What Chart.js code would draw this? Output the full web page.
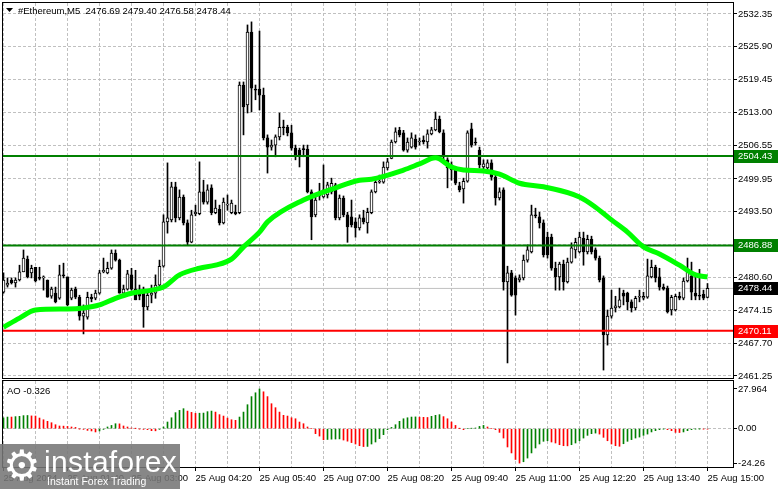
<!DOCTYPE html>
<html>
<head>
<meta charset="utf-8">
<script src="https://cdn.jsdelivr.net/npm/chart.js@4.4.1/dist/chart.umd.min.js"></script>
<style>
  html, body { margin: 0; padding: 0; background: #fff; }
  #wrap { position: relative; width: 781px; height: 489px; overflow: hidden; }
  #main { position: absolute; left: 0; top: 0; }
  #ao { position: absolute; left: 0; top: 380px; }
  #logo { position: absolute; left: 0; top: 444px; width: 180px; height: 45px;
          background: rgba(118,118,118,0.88); color: #fff; font-family: 'Liberation Sans', sans-serif; }
  #logo .gear { position: absolute; left: 3px; top: -1px; font-size: 42px; line-height: 46px; font-family: 'DejaVu Sans', sans-serif; }
  #logo .name { position: absolute; left: 44px; top: 3px; font-size: 30px; line-height: 30px; letter-spacing: 0.3px; }
  #logo .tag { position: absolute; left: 47px; top: 31px; font-size: 10.5px; line-height: 12px; }
</style>
</head>
<body>
<div id="wrap">
  <canvas id="main" width="781" height="380"></canvas>
  <canvas id="ao" width="781" height="109"></canvas>
  <div id="logo"><span class="gear">⚙</span><span class="name">instaforex</span><span class="tag">Instant Forex Trading</span></div>
</div>
<script>
// ETH M5 candles, one per 5 minutes starting 25 Aug 00:20
const opens = [
  2477.7, 2479.1, 2480.1, 2479.5, 2480.1, 2481.7, 2484.2, 2481.5, 2482.6, 2480.5,
  2480.5, 2480.1, 2476.9, 2477.5, 2476.5, 2481.1, 2480.7, 2476.5, 2478.3, 2476.7,
  2473.0, 2472.8, 2476.7, 2476.5, 2477.5, 2481.7, 2481.5, 2482.4, 2485.4, 2484.0,
  2477.5, 2478.3, 2481.1, 2478.3, 2477.3, 2477.5, 2474.8, 2477.1, 2477.5, 2479.1,
  2482.8, 2491.5, 2491.9, 2498.4, 2492.3, 2496.4, 2491.3, 2487.5, 2493.1, 2493.1,
  2497.4, 2495.4, 2498.2, 2493.3, 2494.0, 2491.3, 2494.8, 2493.3, 2493.4, 2493.3,
  2518.4, 2514.5, 2528.8, 2517.6, 2517.6, 2516.4, 2508.0, 2506.2, 2506.6, 2508.2,
  2510.1, 2510.1, 2509.0, 2506.0, 2505.6, 2505.8, 2505.8, 2497.4, 2492.9, 2496.8,
  2496.4, 2496.8, 2497.4, 2498.8, 2492.3, 2496.2, 2492.9, 2492.5, 2491.5, 2490.3,
  2492.3, 2491.3, 2493.3, 2497.4, 2499.3, 2499.3, 2502.1, 2504.0, 2507.2, 2509.5,
  2509.0, 2505.6, 2506.2, 2507.8, 2507.2, 2507.6, 2507.2, 2508.8, 2509.6, 2511.7,
  2509.0, 2503.7, 2502.7, 2501.7, 2498.6, 2498.0, 2499.5, 2509.8, 2507.2, 2505.6,
  2502.3, 2502.1, 2503.1, 2500.3, 2496.2, 2497.8, 2479.7, 2481.5, 2480.5, 2480.1,
  2480.5, 2484.0, 2485.6, 2492.9, 2492.5, 2491.3, 2488.5, 2488.5, 2482.4, 2480.7,
  2483.2, 2479.7, 2483.6, 2486.0, 2485.6, 2488.3, 2485.6, 2488.1, 2486.0, 2484.4,
  2480.5, 2469.3, 2473.0, 2474.6, 2474.8, 2477.5, 2477.5, 2475.8, 2474.6, 2476.7,
  2476.5, 2476.7, 2480.7, 2482.6, 2480.7, 2478.7, 2478.5, 2474.2, 2474.2, 2476.9,
  2476.5, 2479.9, 2480.9, 2477.5, 2477.1, 2477.3, 2476.69
];
const highs = [
  2481.5, 2480.5, 2480.5, 2480.5, 2483.0, 2486.0, 2484.8, 2483.0, 2482.6, 2482.6,
  2480.9, 2480.1, 2478.7, 2478.7, 2483.0, 2483.4, 2480.7, 2478.5, 2478.7, 2477.1,
  2475.2, 2477.7, 2477.3, 2478.1, 2482.0, 2484.4, 2483.6, 2486.0, 2486.0, 2484.2,
  2479.1, 2482.0, 2482.4, 2482.0, 2479.1, 2478.7, 2478.1, 2479.1, 2481.1, 2484.0,
  2492.9, 2503.1, 2499.3, 2499.3, 2497.8, 2496.8, 2491.9, 2493.8, 2494.8, 2503.3,
  2499.7, 2498.8, 2498.8, 2495.8, 2494.8, 2496.2, 2496.8, 2495.8, 2494.8, 2519.0,
  2519.0, 2530.2, 2530.8, 2518.4, 2529.0, 2517.8, 2508.6, 2507.6, 2508.6, 2512.9,
  2511.5, 2510.5, 2510.5, 2506.6, 2506.0, 2506.6, 2506.6, 2497.8, 2496.8, 2499.1,
  2502.7, 2499.3, 2500.1, 2499.1, 2496.8, 2496.6, 2493.4, 2495.8, 2492.3, 2492.9,
  2493.8, 2494.2, 2497.8, 2500.1, 2500.7, 2503.3, 2504.0, 2507.6, 2510.0, 2510.1,
  2509.5, 2508.0, 2509.0, 2508.6, 2508.0, 2508.4, 2509.6, 2510.1, 2513.1, 2512.3,
  2509.6, 2504.1, 2503.3, 2502.1, 2499.3, 2500.1, 2509.4, 2510.9, 2508.0, 2506.2,
  2503.7, 2503.7, 2503.7, 2500.7, 2498.2, 2498.2, 2482.8, 2482.0, 2480.9, 2481.1,
  2485.0, 2487.0, 2494.8, 2494.2, 2493.4, 2491.9, 2489.5, 2489.1, 2483.6, 2483.6,
  2484.0, 2484.4, 2487.4, 2488.3, 2489.5, 2489.5, 2488.9, 2488.7, 2486.4, 2484.8,
  2480.9, 2474.2, 2478.1, 2476.9, 2478.5, 2478.1, 2477.7, 2476.2, 2476.9, 2478.1,
  2477.7, 2484.2, 2484.0, 2483.0, 2482.4, 2479.3, 2478.9, 2477.1, 2477.3, 2477.7,
  2480.5, 2484.4, 2483.6, 2481.1, 2482.2, 2478.1, 2479.40
];
const lows = [
  2477.5, 2478.7, 2479.3, 2478.7, 2479.9, 2481.7, 2480.5, 2480.5, 2479.7, 2480.1,
  2478.1, 2476.7, 2476.5, 2475.6, 2476.3, 2480.5, 2475.0, 2476.2, 2476.4, 2472.2,
  2469.5, 2472.4, 2475.8, 2476.2, 2477.3, 2481.5, 2481.3, 2482.2, 2483.8, 2477.5,
  2477.1, 2478.1, 2478.1, 2476.2, 2476.2, 2470.8, 2474.2, 2475.6, 2476.5, 2478.9,
  2482.6, 2489.3, 2491.5, 2491.5, 2491.9, 2490.9, 2487.0, 2487.4, 2492.7, 2492.9,
  2495.0, 2495.0, 2492.9, 2493.1, 2490.9, 2491.1, 2493.8, 2493.1, 2492.9, 2493.1,
  2508.6, 2512.9, 2513.1, 2515.5, 2513.5, 2507.6, 2501.1, 2505.6, 2504.3, 2507.6,
  2508.6, 2508.4, 2505.6, 2503.7, 2502.3, 2504.3, 2497.2, 2488.0, 2492.5, 2495.8,
  2496.2, 2496.2, 2497.0, 2491.9, 2491.9, 2492.5, 2487.5, 2490.5, 2488.5, 2489.9,
  2491.1, 2489.3, 2493.1, 2497.2, 2499.1, 2499.1, 2501.7, 2503.9, 2507.0, 2508.2,
  2505.4, 2505.2, 2506.0, 2505.8, 2506.6, 2506.8, 2506.0, 2508.6, 2509.4, 2509.0,
  2503.7, 2498.2, 2499.7, 2498.8, 2497.4, 2495.2, 2499.3, 2506.2, 2506.6, 2502.1,
  2501.7, 2501.7, 2499.7, 2494.8, 2495.8, 2478.1, 2463.8, 2476.9, 2473.2, 2479.7,
  2480.1, 2483.6, 2485.4, 2492.3, 2490.3, 2484.6, 2484.4, 2482.0, 2478.1, 2478.1,
  2478.1, 2479.5, 2483.4, 2484.4, 2485.4, 2483.0, 2485.2, 2485.2, 2484.0, 2479.7,
  2462.4, 2467.3, 2472.6, 2473.8, 2474.6, 2475.2, 2474.2, 2473.8, 2474.2, 2475.8,
  2476.2, 2476.5, 2480.5, 2479.7, 2478.1, 2478.1, 2473.6, 2473.2, 2474.0, 2476.2,
  2476.2, 2479.7, 2476.2, 2476.2, 2476.2, 2476.2, 2476.58
];
const closes = [
  2480.1, 2479.5, 2479.5, 2480.1, 2481.7, 2484.4, 2480.7, 2482.4, 2479.9, 2480.4,
  2480.7, 2476.7, 2478.3, 2475.8, 2481.1, 2480.9, 2475.2, 2478.1, 2476.7, 2473.0,
  2473.6, 2476.7, 2476.4, 2477.5, 2481.5, 2482.0, 2482.4, 2485.4, 2484.0, 2477.5,
  2478.3, 2481.3, 2478.3, 2476.2, 2476.9, 2474.8, 2477.1, 2477.5, 2479.1, 2482.8,
  2491.5, 2492.3, 2498.4, 2492.3, 2496.4, 2491.3, 2487.5, 2492.9, 2493.4, 2497.4,
  2495.4, 2497.8, 2493.3, 2494.2, 2491.3, 2495.4, 2495.0, 2495.2, 2493.1, 2518.4,
  2514.1, 2528.8, 2517.8, 2517.4, 2516.4, 2508.0, 2506.2, 2506.6, 2508.2, 2510.1,
  2510.0, 2509.0, 2506.0, 2504.6, 2504.3, 2505.7, 2497.4, 2492.5, 2495.8, 2496.6,
  2497.8, 2498.8, 2499.1, 2492.3, 2496.2, 2492.9, 2490.5, 2490.9, 2490.3, 2492.3,
  2491.5, 2493.4, 2497.4, 2499.3, 2499.5, 2502.3, 2503.3, 2507.2, 2509.2, 2508.6,
  2505.6, 2507.2, 2508.0, 2506.2, 2507.4, 2507.2, 2508.8, 2509.6, 2511.7, 2509.2,
  2504.6, 2502.1, 2501.7, 2499.1, 2497.8, 2499.5, 2509.0, 2506.6, 2507.0, 2502.7,
  2502.9, 2503.1, 2500.3, 2496.2, 2497.4, 2479.7, 2481.5, 2477.1, 2477.1, 2480.5,
  2484.0, 2486.0, 2492.9, 2492.7, 2491.3, 2485.0, 2485.0, 2482.4, 2480.7, 2483.2,
  2479.7, 2483.6, 2486.4, 2487.5, 2488.5, 2485.6, 2488.1, 2485.6, 2484.4, 2480.1,
  2469.3, 2473.0, 2474.6, 2475.0, 2476.2, 2476.9, 2475.8, 2474.6, 2476.5, 2476.8,
  2476.9, 2480.9, 2482.6, 2480.5, 2478.7, 2478.3, 2473.8, 2476.7, 2476.9, 2476.5,
  2479.9, 2482.0, 2477.7, 2476.9, 2476.9, 2476.5, 2478.44
];

// moving average, read at a set of bars
const maBars = [0, 4, 8, 16, 20, 24, 28, 32, 37, 40, 44, 49, 53, 57, 60, 64, 66, 75, 83, 89,
  92, 100, 104, 108, 112, 115, 120, 124, 129, 135, 144, 148, 152, 156, 160, 164, 169, 173, 176];
const maValues = [2470.8, 2472.6, 2474.2, 2474.4, 2474.6, 2475.2, 2476.5, 2477.5, 2478.1, 2478.7,
  2481.1, 2482.4, 2483.0, 2484.2, 2486.6, 2489.5, 2491.5, 2495.8, 2498.2, 2499.7,
  2499.9, 2501.7, 2502.9, 2504.1, 2502.3, 2501.7, 2501.5, 2500.9, 2499.1, 2498.4,
  2496.4, 2494.4, 2491.9, 2489.5, 2486.6, 2485.2, 2483.0, 2481.1, 2480.7];

// Awesome Oscillator, one value per bar
const aoValues = [
  7.7, 8.2, 8.2, 8.5, 8.7, 9.2, 9.3, 9.0, 8.9, 7.5,
  6.3, 5.2, 4.2, 2.8, 1.9, 1.8, 1.6, 1.2, 0.9, -0.1,
  -0.5, -1.2, -1.6, -2.3, -1.6, -0.5, 1.2, 2.3, 3.5, 3.4,
  1.9, 1.2, 0.5, 0.1, -0.2, -0.5, -0.7, -1.4, -1.5, -0.5,
  1.2, 4.7, 7.7, 11.3, 12.9, 14.1, 12.4, 11.5, 10.8, 10.9,
  11.0, 12.0, 12.4, 11.7, 9.9, 8.9, 7.5, 6.3, 5.9, 8.2,
  11.7, 16.9, 22.6, 25.3, 27.964, 26.0, 22.6, 17.6, 14.8, 11.7,
  9.4, 8.9, 7.7, 7.0, 4.7, 3.5, 1.2, 0.0, -3.5, -5.2,
  -7.8, -7.6, -7.4, -7.3, -7.2, -8.0, -8.8, -9.8, -10.8, -12.0,
  -12.6, -12.5, -10.8, -9.4, -7.0, -4.2, -0.7, 0.9, 2.8, 5.2,
  7.0, 7.7, 8.2, 8.3, 8.1, 8.0, 7.9, 8.7, 9.4, 9.9,
  8.5, 7.0, 4.7, 2.3, 0.1, -0.7, 0.0, 0.2, 0.5, 1.6,
  2.3, 1.2, 0.0, -0.7, -2.6, -6.6, -12.9, -17.1, -21.7, -24.26,
  -23.3, -20.7, -17.1, -13.6, -10.8, -8.9, -8.5, -9.4, -10.1, -11.3,
  -12.0, -12.1, -11.3, -10.1, -8.5, -6.6, -4.7, -3.5, -3.1, -3.8,
  -6.1, -8.5, -10.8, -12.0, -12.4, -10.6, -8.9, -7.7, -6.6, -5.9,
  -4.7, -3.8, -2.3, -1.4, -0.7, -0.2, -0.7, -1.4, -2.6, -2.7,
  -2.3, -1.4, -0.7, -0.2, -0.1, -0.2, -0.326
];

// horizontal levels
const levelValues = [2504.43, 2486.88, 2470.11];
const levelColors = ['#008000', '#008000', '#ff0000'];

// axis labels
const priceTicks = [2532.35, 2525.90, 2519.45, 2513.00, 2506.55, 2499.95, 2493.50, 2487.05, 2480.60, 2474.15, 2467.70, 2461.25];
const aoTicks = [27.964, 0, -24.26];
const aoTickLabels = ['27.964', '0.00', '-24.26'];
const labelBars = [0, 16, 32, 48, 64, 80, 96, 112, 128, 144, 160, 176];
const timeLabels = ['25 Aug 2024', '25 Aug 01:40', '25 Aug 03:00', '25 Aug 04:20', '25 Aug 05:40', '25 Aug 07:00',
  '25 Aug 08:20', '25 Aug 09:40', '25 Aug 11:00', '25 Aug 12:20', '25 Aug 13:40', '25 Aug 15:00'];

const GRID = '#c0c0c0';
const X_MIN = -0.125, X_MAX = 182.375;   // 4px per bar over a 730px plot
const FONT = 'Liberation Sans';
Chart.defaults.font.family = FONT;
Chart.defaults.font.size = 9.5;
Chart.defaults.color = '#000';

const gridBars = [];
for (let b = 0; b <= 176; b += 8) gridBars.push(b);

const last = closes.length - 1;
const currentPrice = closes[last];

// black frame round the plot area
const framePlugin = {
  id: 'frame',
  afterDraw(chart) {
    const { ctx, chartArea: a } = chart;
    ctx.save();
    ctx.strokeStyle = '#000';
    ctx.lineWidth = 1;
    ctx.strokeRect(a.left - 0.5, a.top - 0.5, a.right - a.left + 1, a.bottom - a.top + 1);
    ctx.restore();
  }
};

// title and price boxes on the right axis
const mainLabels = {
  id: 'mainLabels',
  afterDraw(chart) {
    const { ctx } = chart;
    const y = chart.scales.y;
    ctx.save();
    ctx.font = '9.5px ' + FONT;
    ctx.textBaseline = 'middle';
    const boxes = levelValues.map((v, i) => ({ v, bg: levelColors[i] }));
    boxes.push({ v: currentPrice, bg: '#000' });
    boxes.forEach(b => {
      const py = Math.round(y.getPixelForValue(b.v));
      ctx.fillStyle = b.bg;
      ctx.fillRect(734, py - 6, 44, 13);
      ctx.fillStyle = '#fff';
      ctx.fillText(b.v.toFixed(2), 738, py + 0.5);
    });
    // title
    ctx.fillStyle = '#000';
    ctx.beginPath();
    ctx.moveTo(6, 8); ctx.lineTo(13, 8); ctx.lineTo(9.5, 12); ctx.closePath();
    ctx.fill();
    const title = '#Ethereum,M5  ' + [opens[last], highs[last], lows[last], closes[last]].map(v => v.toFixed(2)).join(' ');
    ctx.fillText(title, 18, 11);
    ctx.restore();
  }
};

const aoLabel = {
  id: 'aoLabel',
  afterDraw(chart) {
    const { ctx } = chart;
    ctx.save();
    ctx.font = '9.5px ' + FONT;
    ctx.fillStyle = '#000';
    ctx.textBaseline = 'middle';
    ctx.fillText('AO ' + aoValues[aoValues.length - 1].toFixed(3), 7, 11);
    ctx.restore();
  }
};

const noPad = s => { s.paddingLeft = 0; s.paddingRight = 0; s.paddingTop = 0; s.paddingBottom = 0; };
const hLine = v => [{ x: X_MIN - 1, y: v }, { x: X_MAX + 1, y: v }];

const levelSets = levelValues.map((v, i) => ({
  type: 'line', data: hLine(v), borderColor: levelColors[i], borderWidth: 2,
  pointRadius: 0, fill: false, order: 1
}));

new Chart(document.getElementById('main'), {
  type: 'bar',
  data: {
    datasets: [
      {
        type: 'line', data: maBars.map((b, i) => ({ x: b, y: maValues[i] })),
        borderColor: '#00ff00', borderWidth: 5, pointRadius: 0, fill: false,
        cubicInterpolationMode: 'monotone', order: 0
      },
      ...levelSets,
      {
        data: closes.map((c, i) => ({ x: i, y: [opens[i], c] })),
        backgroundColor: closes.map((c, i) => c >= opens[i] ? '#ffffff' : '#000000'),
        borderColor: '#000', borderWidth: 1, borderSkipped: false,
        barThickness: 3, minBarLength: 1, grouped: false, order: 2
      },
      {
        data: closes.map((c, i) => ({ x: i, y: [lows[i], highs[i]] })),
        backgroundColor: '#000', borderWidth: 0,
        barThickness: 1, grouped: false, order: 3
      },
      {
        type: 'line', data: hLine(currentPrice), borderColor: '#c0c0c0', borderWidth: 1,
        pointRadius: 0, fill: false, order: 4
      }
    ]
  },
  options: {
    responsive: false,
    animation: false,
    layout: { padding: { left: 3, top: 3, right: 0, bottom: 0 } },
    plugins: { legend: { display: false }, tooltip: { enabled: false } },
    scales: {
      x: {
        type: 'linear', min: X_MIN, max: X_MAX, bounds: 'data', offset: false,
        afterBuildTicks: s => { s.ticks = gridBars.map(v => ({ value: v })); },
        afterFit: s => { s.height = 2; noPad(s); },
        ticks: { display: false },
        grid: { color: GRID, offset: false, drawTicks: false },
        border: { display: false, dash: [3, 2] }
      },
      y: {
        position: 'right', min: 2460.84, max: 2534.51, bounds: 'data',
        afterBuildTicks: s => { s.ticks = priceTicks.map(v => ({ value: v })); },
        afterFit: s => { s.width = 48; noPad(s); },
        ticks: { padding: 1, autoSkip: false, callback: v => v.toFixed(2) },
        grid: { color: GRID, tickLength: 4, tickColor: '#000', tickBorderDash: [] },
        border: { display: false, dash: [3, 2] }
      }
    }
  },
  plugins: [framePlugin, mainLabels]
});

new Chart(document.getElementById('ao'), {
  type: 'bar',
  data: {
    datasets: [{
      data: aoValues.map((v, i) => ({ x: i, y: v })),
      backgroundColor: aoValues.map((v, i) => (i === 0 || v > aoValues[i - 1]) ? '#008000' : '#ff0000'),
      borderWidth: 0, barThickness: 1, grouped: false
    }]
  },
  options: {
    responsive: false,
    animation: false,
    layout: { padding: { left: 3, top: 1, right: 0, bottom: 0 } },
    plugins: { legend: { display: false }, tooltip: { enabled: false } },
    scales: {
      x: {
        type: 'linear', min: X_MIN, max: X_MAX, bounds: 'data', offset: false,
        afterBuildTicks: s => { s.ticks = gridBars.map(v => ({ value: v })); },
        afterFit: s => { s.height = 22; noPad(s); },
        ticks: {
          autoSkip: false, maxRotation: 0, minRotation: 0, align: 'start', padding: 2,
          callback: v => { const k = labelBars.indexOf(v); return k >= 0 ? timeLabels[k] : ''; }
        },
        grid: {
          color: GRID, offset: false, drawTicks: true, tickLength: 4,
          tickColor: c => (c.tick && labelBars.includes(c.tick.value)) ? '#000' : 'rgba(0,0,0,0)'
        },
        border: { display: false, dash: [3, 2] }
      },
      y: {
        position: 'right', min: -27.0, max: 33.6, bounds: 'data',
        afterBuildTicks: s => { s.ticks = aoTicks.map(v => ({ value: v })); },
        afterFit: s => { s.width = 48; noPad(s); },
        ticks: { padding: 1, autoSkip: false, callback: (v, i) => aoTickLabels[i] },
        grid: {
          color: c => (c.tick && c.tick.value === 0) ? GRID : 'rgba(0,0,0,0)',
          tickLength: 4, tickColor: '#000', tickBorderDash: []
        },
        border: { display: false, dash: [3, 2] }
      }
    }
  },
  plugins: [framePlugin, aoLabel]
});
</script>
</body>
</html>
